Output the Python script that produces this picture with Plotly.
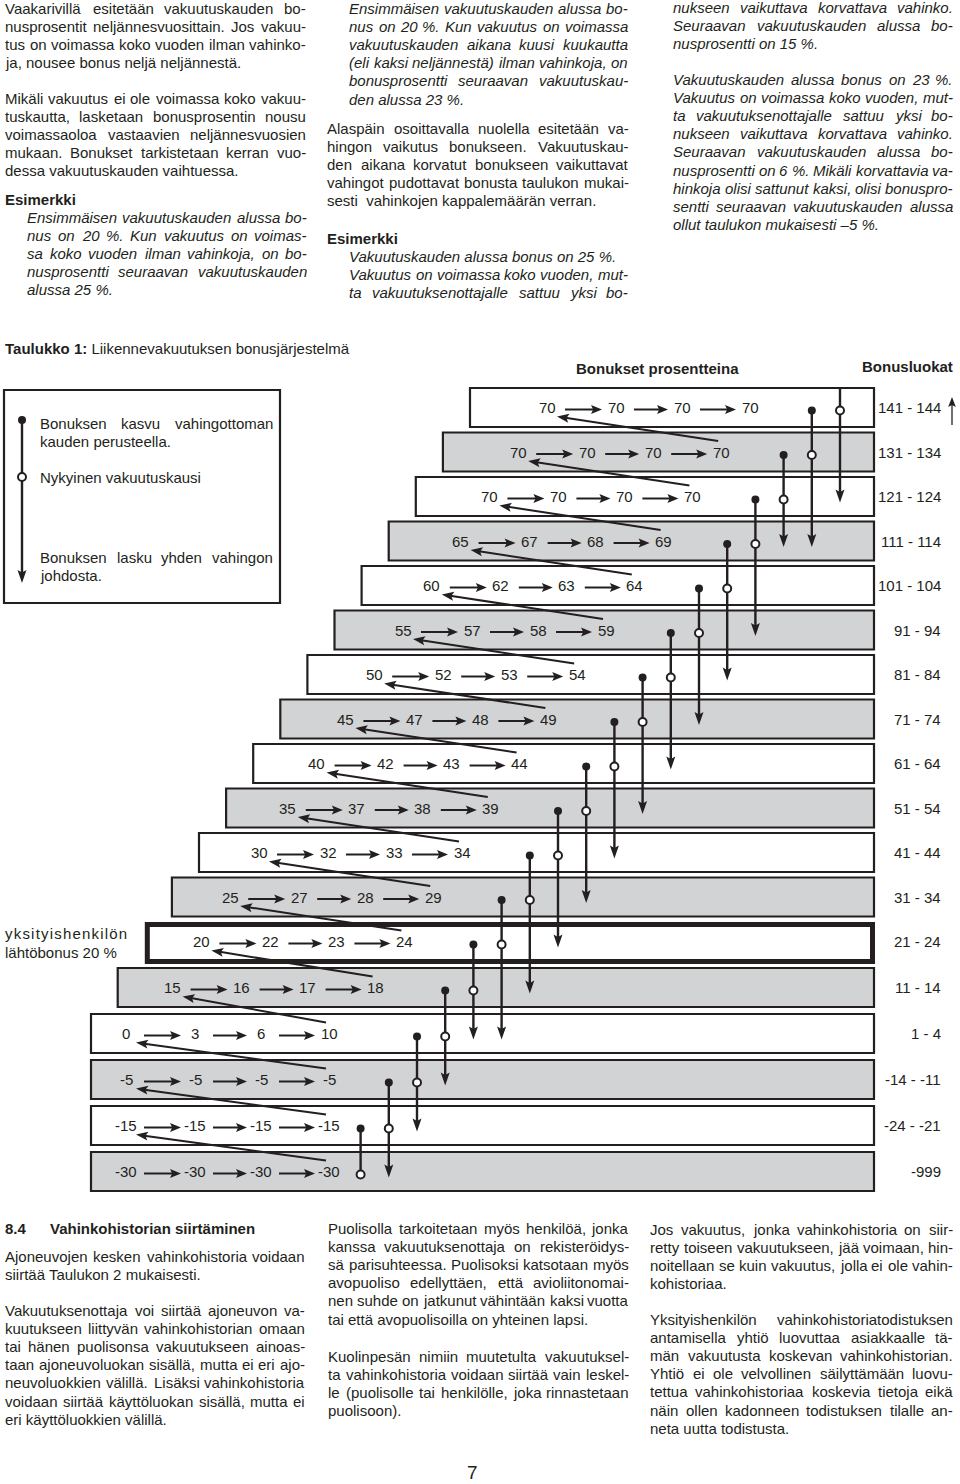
import math
import plotly.graph_objects as go

FONT = "Liberation Sans"
INK = "#231f20"
GRAY = "#d2d3d5"
NB = "\u00a0"

# ---------------- data ----------------
bonus_classes = ["141 - 144", "131 - 134", "121 - 124", "111 - 114", "101 - 104",
                 "91 - 94", "81 - 84", "71 - 74", "61 - 64", "51 - 54", "41 - 44",
                 "31 - 34", "21 - 24", "11 - 14", "1 - 4", "-14 - -11", "-24 - -21", "-999"]
bonus_percent = [
    [70, 70, 70, 70],
    [70, 70, 70, 70],
    [70, 70, 70, 70],
    [65, 67, 68, 69],
    [60, 62, 63, 64],
    [55, 57, 58, 59],
    [50, 52, 53, 54],
    [45, 47, 48, 49],
    [40, 42, 43, 44],
    [35, 37, 38, 39],
    [30, 32, 33, 34],
    [25, 27, 28, 29],
    [20, 22, 23, 24],
    [15, 16, 17, 18],
    [0, 3, 6, 10],
    [-5, -5, -5, -5],
    [-15, -15, -15, -15],
    [-30, -30, -30, -30],
]
# row reached after one claim, starting from the row of the current period
claim_target_row = [2, 3, 3, 5, 6, 7, 8, 9, 10, 11, 12, 13, 14, 14, 15, 16, 17, None]
start_row = 12

title_bold = "Taulukko 1:"
title_rest = "Liikennevakuutuksen bonusjärjestelmä"
header_percent = "Bonukset prosentteina"
header_class = "Bonusluokat"
start_label = ["yksityishenkilön", "lähtöbonus 20 %"]
legend_lines = ["Bonuksen kasvu vahingottoman", "kauden perusteella.",
                "Nykyinen vakuutuskausi",
                "Bonuksen lasku yhden vahingon", "johdosta."]
example_heading = "Esimerkki"
section_no = "8.4"
section_title = "Vahinkohistorian siirtäminen"
page_number = "7"

top1_p1 = ["Vaakarivillä esitetään vakuutuskauden bo-",
           "nusprosentit neljännesvuosittain. Jos vakuu-",
           "tus on voimassa koko vuoden ilman vahinko-",
           "ja, nousee bonus neljä neljännestä."]
top1_p2 = ["Mikäli vakuutus ei ole voimassa koko vakuu-",
           "tuskautta, lasketaan bonusprosentin nousu",
           "voimassaoloa vastaavien neljännesvuosien",
           "mukaan. Bonukset tarkistetaan kerran vuo-",
           "dessa vakuutuskauden vaihtuessa."]
top1_ex = ["Ensimmäisen vakuutuskauden alussa bo-",
           f"nus on 20{NB}%. Kun vakuutus on voimas-",
           "sa koko vuoden ilman vahinkoja, on bo-",
           "nusprosentti seuraavan vakuutuskauden",
           f"alussa 25{NB}%."]
top2_ex = ["Ensimmäisen vakuutuskauden alussa bo-",
           f"nus on 20{NB}%. Kun vakuutus on voimassa",
           "vakuutuskauden aikana kuusi kuukautta",
           "(eli kaksi neljännestä) ilman vahinkoja, on",
           "bonusprosentti seuraavan vakuutuskau-",
           f"den alussa 23{NB}%."]
top2_p = ["Alaspäin osoittavalla nuolella esitetään va-",
          "hingon vaikutus bonukseen. Vakuutuskau-",
          "den aikana korvatut bonukseen vaikuttavat",
          "vahingot pudottavat bonusta taulukon mukai-",
          "sesti  vahinkojen kappalemäärän verran."]
top2_ex2 = [f"Vakuutuskauden alussa bonus on 25{NB}%.",
            "Vakuutus on voimassa koko vuoden, mut-",
            "ta vakuutuksenottajalle sattuu yksi bo-"]
top3_ex2 = ["nukseen vaikuttava korvattava vahinko.",
            "Seuraavan vakuutuskauden alussa bo-",
            f"nusprosentti on 15{NB}%."]
top3_ex3 = [f"Vakuutuskauden alussa bonus on 23{NB}%.",
            "Vakuutus on voimassa koko vuoden, mut-",
            "ta vakuutuksenottajalle sattuu yksi bo-",
            "nukseen vaikuttava korvattava vahinko.",
            "Seuraavan vakuutuskauden alussa bo-",
            f"nusprosentti on 6{NB}%. Mikäli korvattavia va-",
            "hinkoja olisi sattunut kaksi, olisi bonuspro-",
            "sentti seuraavan vakuutuskauden alussa",
            f"ollut taulukon mukaisesti –5{NB}%."]
bot1_p1 = ["Ajoneuvojen kesken vahinkohistoria voidaan",
           "siirtää Taulukon 2 mukaisesti."]
bot1_p2 = ["Vakuutuksenottaja voi siirtää ajoneuvon va-",
           "kuutukseen liittyvän vahinkohistorian omaan",
           "tai hänen puolisonsa vakuutukseen ainoas-",
           "taan ajoneuvoluokan sisällä, mutta ei eri ajo-",
           "neuvoluokkien välillä. Lisäksi vahinkohistoria",
           "voidaan siirtää käyttöluokan sisällä, mutta ei",
           "eri käyttöluokkien välillä."]
bot2_p1 = ["Puolisolla tarkoitetaan myös henkilöä, jonka",
           "kanssa vakuutuksenottaja on rekisteröidys-",
           "sä parisuhteessa. Puolisoksi katsotaan myös",
           "avopuoliso edellyttäen, että avioliitonomai-",
           "nen suhde on jatkunut vähintään kaksi vuotta",
           "tai että avopuolisoilla on yhteinen lapsi."]
bot2_p2 = ["Kuolinpesän nimiin muutetulta vakuutuksel-",
           "ta vahinkohistoria voidaan siirtää vain leskel-",
           "le (puolisolle tai henkilölle, joka rinnastetaan",
           "puolisoon)."]
bot3_p1 = ["Jos vakuutus, jonka vahinkohistoria on siir-",
           "retty toiseen vakuutukseen, jää voimaan, hin-",
           "noitellaan se kuin vakuutus, jolla ei ole vahin-",
           "kohistoriaa."]
bot3_p2 = ["Yksityishenkilön vahinkohistoriatodistuksen",
           "antamisella yhtiö luovuttaa asiakkaalle tä-",
           "män vakuutusta koskevan vahinkohistorian.",
           "Yhtiö ei ole velvollinen säilyttämään luovu-",
           "tettua vahinkohistoriaa koskevia tietoja eikä",
           "näin ollen kadonneen todistuksen tilalle an-",
           "neta uutta todistusta."]

# ---------------- font metrics (Arial / Liberation Sans, 1/1000 em) ----------------
REG = {' ': 278, NB: 278, '!': 278, '%': 889, '(': 333, ')': 333, ',': 278, '-': 333,
       '.': 278, ':': 278, '–': 556,
       'A': 667, 'B': 667, 'C': 722, 'D': 722, 'E': 667, 'F': 611, 'G': 778, 'H': 722,
       'I': 278, 'J': 500, 'K': 667, 'L': 556, 'M': 833, 'N': 722, 'O': 778, 'P': 667,
       'Q': 778, 'R': 722, 'S': 667, 'T': 611, 'U': 722, 'V': 667, 'W': 944, 'X': 667,
       'Y': 667, 'Z': 611,
       'a': 556, 'b': 556, 'c': 500, 'd': 556, 'e': 556, 'f': 278, 'g': 556, 'h': 556,
       'i': 222, 'j': 222, 'k': 500, 'l': 222, 'm': 833, 'n': 556, 'o': 556, 'p': 556,
       'q': 556, 'r': 333, 's': 500, 't': 278, 'u': 556, 'v': 500, 'w': 722, 'x': 500,
       'y': 500, 'z': 500, 'ä': 556, 'ö': 556, 'å': 556, 'Ä': 667, 'Ö': 778}
for d in "0123456789":
    REG[d] = 556


def text_w(s, size=15):
    return sum(REG.get(ch, 556) for ch in s) * size / 1000.0


# ---------------- geometry helpers ----------------
def row_top(i):
    return 388 + 44.5 * min(i, 12) + 46 * max(i - 12, 0)


def row_mid(i):
    return row_top(i) + 19.5


def row_left(i):
    return 470 - 27.1 * i if i <= 13 else 91


def first_x(i):
    return 547 - 28.8 * i if i <= 13 else 126


SLOT = [0, 69, 135, 203]
BOX_RIGHT = 874
BOX_H = 39
LABEL_RIGHT = 941
LH = 18.2


def col_x(c):
    return 840 - 28.2 * c


shapes = []
anns = []


def ann(x, y, text, xanchor="left", size=15, color=INK):
    anns.append(dict(x=x, y=y, xref="x", yref="y", text=text, showarrow=False,
                     xanchor=xanchor, yanchor="middle", borderpad=0, borderwidth=0,
                     font=dict(family=FONT, size=size, color=color)))


def head(xt, yt, xf, yf, L=11.0, W=4.5):
    dx, dy = xt - xf, yt - yf
    n = math.hypot(dx, dy)
    ux, uy = dx / n, dy / n
    px, py = -uy, ux
    bx, by = xt - ux * L, yt - uy * L
    nx, ny = xt - ux * L * 0.8, yt - uy * L * 0.8
    path = (f"M{xt:.2f},{yt:.2f} L{bx + px * W:.2f},{by + py * W:.2f} "
            f"L{nx:.2f},{ny:.2f} L{bx - px * W:.2f},{by - py * W:.2f} Z")
    shapes.append(dict(type="path", path=path, xref="x", yref="y",
                       fillcolor=INK, line=dict(width=0), layer="above"))
    return xt - ux * L * 0.7, yt - uy * L * 0.7


def add_line(x0, x1, y, text, justify, italic=False):
    wrap = (lambda w: f"<i>{w}</i>") if italic else (lambda w: w)
    if not justify:
        ann(x0, y, wrap(text), "left")
        return
    words = text.split()
    widths = [text_w(w) for w in words]
    gap = (x1 - x0 - sum(widths)) / max(len(words) - 1, 1)
    x = x0
    for k, w in enumerate(words):
        if k == len(words) - 1:
            ann(x1, y, wrap(w), "right")
        else:
            ann(x, y, wrap(w), "left")
        x += widths[k] + gap


def block(lines, x0, x1, y, italic=False, flags=None):
    for k, line in enumerate(lines):
        j = flags[k] if flags is not None else (k < len(lines) - 1)
        add_line(x0, x1, y + k * LH, line, j, italic)


fig = go.Figure()
n_rows = len(bonus_percent)

# ---------------- boxes ----------------
for i in range(n_rows):
    fill = GRAY if i % 2 == 1 else "white"
    if i == start_row:
        shapes.append(dict(type="rect", xref="x", yref="y", layer="below",
                           x0=row_left(i) + 2.5, x1=BOX_RIGHT - 1.5,
                           y0=row_top(i) + 2.5, y1=row_top(i) + BOX_H + 0.5,
                           fillcolor=fill, line=dict(color=INK, width=5)))
    else:
        shapes.append(dict(type="rect", xref="x", yref="y", layer="below",
                           x0=row_left(i), x1=BOX_RIGHT,
                           y0=row_top(i), y1=row_top(i) + BOX_H,
                           fillcolor=fill, line=dict(color=INK, width=2.2)))

# legend box
shapes.append(dict(type="rect", xref="x", yref="y", layer="below",
                   x0=4, x1=280, y0=390, y1=603, fillcolor="white",
                   line=dict(color=INK, width=2.2)))

# ---------------- numbers & arrows ----------------
hx, hy = [], []
for i, vals in enumerate(bonus_percent):
    fx = first_x(i)
    ym = row_mid(i)
    for k, v in enumerate(vals):
        ann(fx + SLOT[k], ym, str(v), "center")
    for k in range(len(vals) - 1):
        x0 = fx + SLOT[k] + 18
        xt = fx + SLOT[k + 1] - 14
        ya = ym + 2
        ex, ey = head(xt, ya, x0, ya, L=11, W=4.5)
        hx += [x0, ex, None]
        hy += [ya, ya, None]
    ann(LABEL_RIGHT, ym, bonus_classes[i], "right")

dx_, dy_ = [], []
for i in range(n_rows - 1):
    xs = first_x(i + 1) + SLOT[3] - 3
    ys = row_mid(i + 1) - 11
    xt = first_x(i) + 10
    yt = row_mid(i) + 9
    ex, ey = head(xt, yt, xs, ys, L=12, W=4.5)
    dx_ += [xs, ex, None]
    dy_ += [ys, ey, None]

vx, vy = [], []
for c in range(n_rows):
    x = col_x(c)
    y0 = row_top(0) if c == 0 else row_mid(c - 1) + 3
    tgt = claim_target_row[c]
    if tgt is None:
        y1 = row_mid(c) + 3
    else:
        y1 = head(x, row_mid(tgt) + 6, x, y0, L=13, W=4.5)[1]
    vx += [x, x, None]
    vy += [y0, y1, None]

# legend arrow
lx = 22
vx += [lx, lx, None]
vy += [420, head(lx, 583, lx, 420, L=13, W=4.5)[1], None]

# up arrow next to class labels
ux_end = head(952, 397, 952, 425, L=10, W=3.8)
upx = [952, 952]
upy = [425, ux_end[1]]

fig.add_trace(go.Scatter(x=hx, y=hy, mode="lines", line=dict(color=INK, width=2),
                         hoverinfo="skip"))
fig.add_trace(go.Scatter(x=dx_, y=dy_, mode="lines", line=dict(color=INK, width=2),
                         hoverinfo="skip"))
fig.add_trace(go.Scatter(x=vx, y=vy, mode="lines", line=dict(color=INK, width=2.4),
                         hoverinfo="skip"))
fig.add_trace(go.Scatter(x=upx, y=upy, mode="lines", line=dict(color=INK, width=1.3),
                         hoverinfo="skip"))

# dots
fdx = [col_x(r + 1) for r in range(n_rows - 1)] + [lx]
fdy = [row_mid(r) + 3 for r in range(n_rows - 1)] + [420]
odx = [col_x(r) for r in range(n_rows)] + [lx]
ody = [row_mid(r) + 3 for r in range(n_rows)] + [477]
fig.add_trace(go.Scatter(x=fdx, y=fdy, mode="markers",
                         marker=dict(size=8, color=INK, line=dict(width=0)),
                         hoverinfo="skip"))
fig.add_trace(go.Scatter(x=odx, y=ody, mode="markers",
                         marker=dict(size=8, color="white", line=dict(color=INK, width=2)),
                         hoverinfo="skip"))

# ---------------- diagram texts ----------------
ann(5, 348, f"<b>{title_bold}</b> {title_rest}")
ann(657, 368, f"<b>{header_percent}</b>", "center")
ann(907, 366, f"<b>{header_class}</b>", "center")
ann(5, 933, f'<span style="letter-spacing:1.2px">{start_label[0]}</span>')
ann(5, 952, start_label[1])

add_line(40, 273, 423, legend_lines[0], True)
add_line(40, 273, 441, legend_lines[1], False)
add_line(40, 273, 477, legend_lines[2], False)
add_line(40, 273, 557, legend_lines[3], True)
add_line(40, 273, 575, legend_lines[4], False)

# ---------------- body text ----------------
block(top1_p1, 5, 306, 8)
block(top1_p2, 5, 306, 98)
ann(5, 199, f"<b>{example_heading}</b>")
block(top1_ex, 27, 307, 217, italic=True)

block(top2_ex, 349, 628, 8, italic=True)
block(top2_p, 327, 629, 128)
ann(327, 238, f"<b>{example_heading}</b>")
block(top2_ex2, 349, 628, 256, italic=True, flags=[False, True, True])

block(top3_ex2, 673, 953, 7, italic=True)
block(top3_ex3, 673, 953, 79, italic=True)

ann(5, 1228, f"<b>{section_no}</b>")
ann(50, 1228, f"<b>{section_title}</b>")
block(bot1_p1, 5, 305, 1256)
block(bot1_p2, 5, 305, 1310)
block(bot2_p1, 328, 629, 1228)
block(bot2_p2, 328, 629, 1356)
block(bot3_p1, 650, 953, 1229)
block(bot3_p2, 650, 953, 1319)

ann(472, 1472, page_number, "center", size=19)

fig.update_layout(
    width=960, height=1484, autosize=False,
    margin=dict(l=0, r=0, t=0, b=0),
    paper_bgcolor="white", plot_bgcolor="white", showlegend=False,
    xaxis=dict(range=[0, 960], visible=False, fixedrange=True),
    yaxis=dict(range=[1484, 0], visible=False, fixedrange=True),
    shapes=shapes, annotations=anns,
)

fig.write_html("out.html", config={"displayModeBar": False, "staticPlot": True},
               post_script="document.body.style.margin='0';")
